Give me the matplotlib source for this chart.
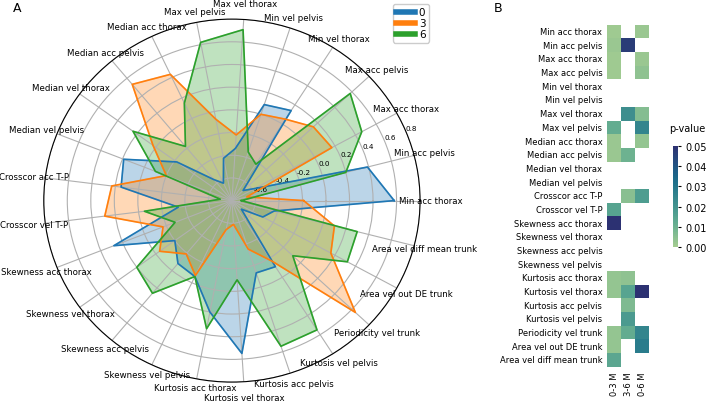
import numpy as np
import matplotlib
matplotlib.use('Agg')
import matplotlib.pyplot as plt
from matplotlib.lines import Line2D
import seaborn as sns

features = ['Min acc thorax', 'Min acc pelvis', 'Max acc thorax', 'Max acc pelvis',
            'Min vel thorax', 'Min vel pelvis', 'Max vel thorax', 'Max vel pelvis',
            'Median acc thorax', 'Median acc pelvis', 'Median vel thorax',
            'Median vel pelvis', 'Crosscor acc T-P', 'Crosscor vel T-P',
            'Skewness acc thorax', 'Skewness vel thorax', 'Skewness acc pelvis',
            'Skewness vel pelvis', 'Kurtosis acc thorax', 'Kurtosis vel thorax',
            'Kurtosis acc pelvis', 'Kurtosis vel pelvis', 'Periodicity vel trunk',
            'Area vel out DE trunk', 'Area vel diff mean trunk']

# radar values per age group (months)
vals_0 = [0.58, 0.39, -0.58, -0.67, 0.14, 0.09, -0.34, -0.42, -0.63, -0.56,
          -0.22, 0.19, 0.15, -0.34, 0.28, -0.20, -0.08, -0.06, 0.20, 0.55,
          -0.13, -0.11, -0.69, -0.50, -0.43]
vals_3 = [-0.19, -0.67, 0.17, 0.15, 0.05, 0.00, -0.22, -0.07, 0.43, 0.53,
          0.03, -0.20, 0.23, 0.29, -0.17, -0.04, -0.19, -0.07, -0.54, -0.59,
          -0.35, -0.17, 0.64, 0.16, 0.10]
vals_6 = [-0.72, 0.20, 0.46, 0.58, -0.42, -0.35, 0.71, 0.62, 0.15, -0.18,
          0.24, -0.10, -0.70, -0.05, -0.28, 0.20, 0.26, -0.06, 0.35, -0.10,
          0.55, 0.55, -0.09, 0.32, 0.30]
groups = ['0', '3', '6']
r_ticks = [-0.6, -0.4, -0.2, 0.0, 0.2, 0.4, 0.6, 0.8]

# p-values per comparison (nan = not significant)
comparisons = ['0-3 M', '3-6 M', '0-6 M']
nan = np.nan
pvals = [
    [0.001, nan, 0.002],
    [0.002, 0.047, nan],
    [0.001, nan, 0.002],
    [0.001, nan, 0.004],
    [nan, nan, nan],
    [nan, nan, nan],
    [nan, 0.022, 0.006],
    [0.012, nan, 0.025],
    [0.002, nan, 0.003],
    [0.002, 0.010, nan],
    [nan, nan, nan],
    [nan, nan, nan],
    [nan, 0.005, 0.017],
    [0.015, nan, nan],
    [0.050, nan, nan],
    [nan, nan, nan],
    [nan, nan, nan],
    [nan, nan, nan],
    [0.003, 0.004, nan],
    [0.003, 0.015, 0.050],
    [nan, 0.007, nan],
    [nan, 0.018, nan],
    [0.003, 0.012, 0.025],
    [0.003, nan, 0.028],
    [0.014, nan, nan],
]

fig = plt.figure(figsize=(7.06, 4.02), dpi=100)

# --- A: radar chart
ax = fig.add_axes([0.062, 0.047, 0.533, 0.903], polar=True)
angles = np.linspace(0, 2 * np.pi, len(features), endpoint=False)
angles_c = np.concatenate([angles, angles[:1]])
colors = ['tab:blue', 'tab:orange', 'tab:green']
for vals, c in zip([vals_0, vals_3, vals_6], colors):
    v = np.concatenate([vals, vals[:1]])
    ax.plot(angles_c, v, color=c, lw=1.2)
    ax.fill(angles_c, v, color=c, alpha=0.3)
ax.set_xticks(angles)
ax.set_xticklabels([])
ax.set_ylim(-0.8, 0.8)
ax.set_yticks(r_ticks)
ax.set_yticklabels([f'{t:.1f}' for t in r_ticks], fontsize=5.2)
ax.spines['polar'].set_linewidth(0.8)
ax.set_aspect('auto')

# feature names just outside the circle, centred like default polar labels
for ang, name in zip(angles, features):
    s = np.sin(ang)
    d = 1.058
    if s > 0.99:
        d = 1.09
    elif s < -0.99:
        d = 1.086
    elif s < -0.97:
        d = 1.046
    ax.text(0.5 + 0.5 * d * np.cos(ang), 0.5 + 0.5 * d * s, name,
            transform=ax.transAxes, ha='center', va='center', fontsize=6.2,
            clip_on=False)

handles = [Line2D([0], [0], color=c, lw=4) for c in colors]
fig.legend(handles, groups, loc='upper left', bbox_to_anchor=(0.549, 1.0),
           fontsize=7.5, handlelength=1.8, handletextpad=0.4,
           borderpad=0.3, labelspacing=0.1, framealpha=1)

fig.text(0.018, 0.995, 'A', fontsize=9, va='top')
fig.text(0.700, 0.995, 'B', fontsize=9, va='top')

# --- B: p-value heatmap
hax = fig.add_axes([0.86, 0.085, 0.0595, 0.851])
cax = fig.add_axes([0.953, 0.383, 0.0075, 0.251])
cmap = sns.color_palette('crest', as_cmap=True)
sns.heatmap(np.array(pvals), ax=hax, cbar_ax=cax, cmap=cmap, vmin=0, vmax=0.05,
            xticklabels=comparisons, yticklabels=features)
hax.tick_params(length=0, labelsize=6)
hax.set_xticklabels(comparisons, rotation=90, fontsize=6)
hax.set_yticklabels(features, rotation=0, fontsize=6)
cax.tick_params(labelsize=7, length=2)
cax.set_yticks([0, 0.01, 0.02, 0.03, 0.04, 0.05])
cax.set_yticklabels(['0.00', '0.01', '0.02', '0.03', '0.04', '0.05'])
fig.text(687 / 706, 1 - 129 / 402, 'p-value', fontsize=7, ha='center', va='center')

fig.savefig('out.png', dpi=100)
